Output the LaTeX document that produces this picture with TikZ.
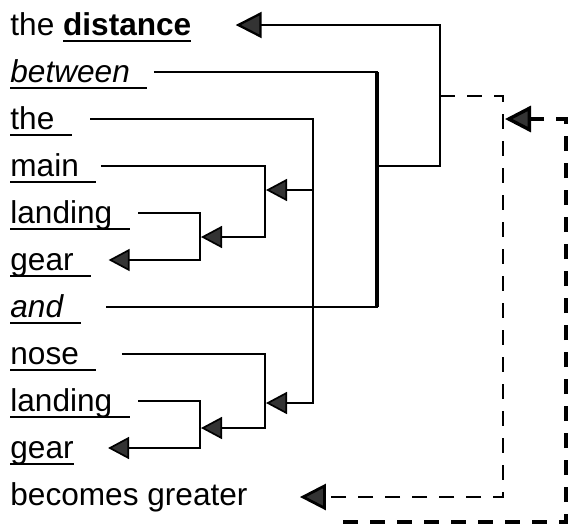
\documentclass[tikz,border=0pt]{standalone}
\usepackage{fontspec}
\setmainfont{Liberation Sans}
\usetikzlibrary{arrows.meta}

% soulignement à hauteur fixe (même sous les lettres à jambage)
\newcommand\souligne[1]{\setbox0=\hbox{#1}\rlap{\rule[-3.6pt]{\wd0}{1pt}}\box0}

\tikzstyle{mot}=[anchor=west, inner sep=0pt, text height=10pt, text depth=0pt, font=\fontsize{15.8}{18}\selectfont]
\tikzstyle{trait}=[line width=0.85pt]
\tikzstyle{moyen}=[line width=1.15pt]
\tikzstyle{epais}=[line width=1.7pt, line cap=butt]
\tikzstyle{tirets}=[line width=1.4pt, dash pattern=on 7.5pt off 6pt]
\tikzstyle{petite}=[-{Triangle[length=10.5pt,width=11pt,fill=black!80]}]
\tikzstyle{grande}=[-{Triangle[length=13pt,width=13pt,fill=black!80]}]

\begin{document}
\begin{tikzpicture}[x=0.5pt,y=-0.5pt]
\useasboundingbox (0,0) rectangle (568,525);

%les mots, un par ligne
\node[mot] (dist)  at (10,25)  {the \souligne{\bfseries distance}};
\node[mot] (betw)  at (10,72)  {\souligne{\itshape between\ \ }};
\node[mot] (the)   at (10,119) {\souligne{the\ \ }};
\node[mot] (main)  at (10,166) {\souligne{main\ \ }};
\node[mot] (land1) at (10,213) {\souligne{landing\ \ }};
\node[mot] (gear1) at (10,260) {\souligne{gear\ \ }};
\node[mot] (and)   at (10,307) {\souligne{\itshape and\ \ }};
\node[mot] (nose)  at (10,354) {\souligne{nose\ \ }};
\node[mot] (land2) at (10,401) {\souligne{landing\ \ }};
\node[mot] (gear2) at (10,448) {\souligne{gear}};
\node[mot] (grows) at (10,495) {becomes greater};

%crochet between ... and, relié à distance
\coordinate (hautB) at (377,72);
\coordinate (basB) at (377,307);
\coordinate (milB) at (377,166);
\draw[moyen] ([xshift=3pt]betw.east) -- (hautB) -- (basB) -- ([xshift=12.5pt]and.east);
\draw[epais] (hautB) -- (basB);
\draw[moyen,grande] (milB) -| (440,25) -- ([xshift=22pt]dist.east);

%the vers les deux groupes
\draw[trait,petite] ([xshift=9pt]the.east) -| (313,403) -- (266,403);
\draw[trait,petite] (313,190) -- (266,190);

%main landing gear
\draw[trait,petite] ([xshift=2pt]main.east) -| (265,237) -- (201,237);
\draw[trait,petite] ([xshift=4pt]land1.east) -| (200,260) -- ([xshift=8.5pt]gear1.east);

%nose landing gear
\draw[trait,petite] ([xshift=12.5pt]nose.east) -| (265,428) -- (201,428);
\draw[trait,petite] ([xshift=4pt]land2.east) -| (200,448) -- ([xshift=17pt]gear2.east);

%liens en tirets
\draw[tirets,grande] (440,96) -| (503,497) -- ([xshift=26pt,yshift=-1pt]grows.east);
\coordinate (depart) at (343,522);
\draw[tirets,line width=1.7pt,grande] (depart) -| (566,119) -- (505,119);

\end{tikzpicture}
\end{document}
